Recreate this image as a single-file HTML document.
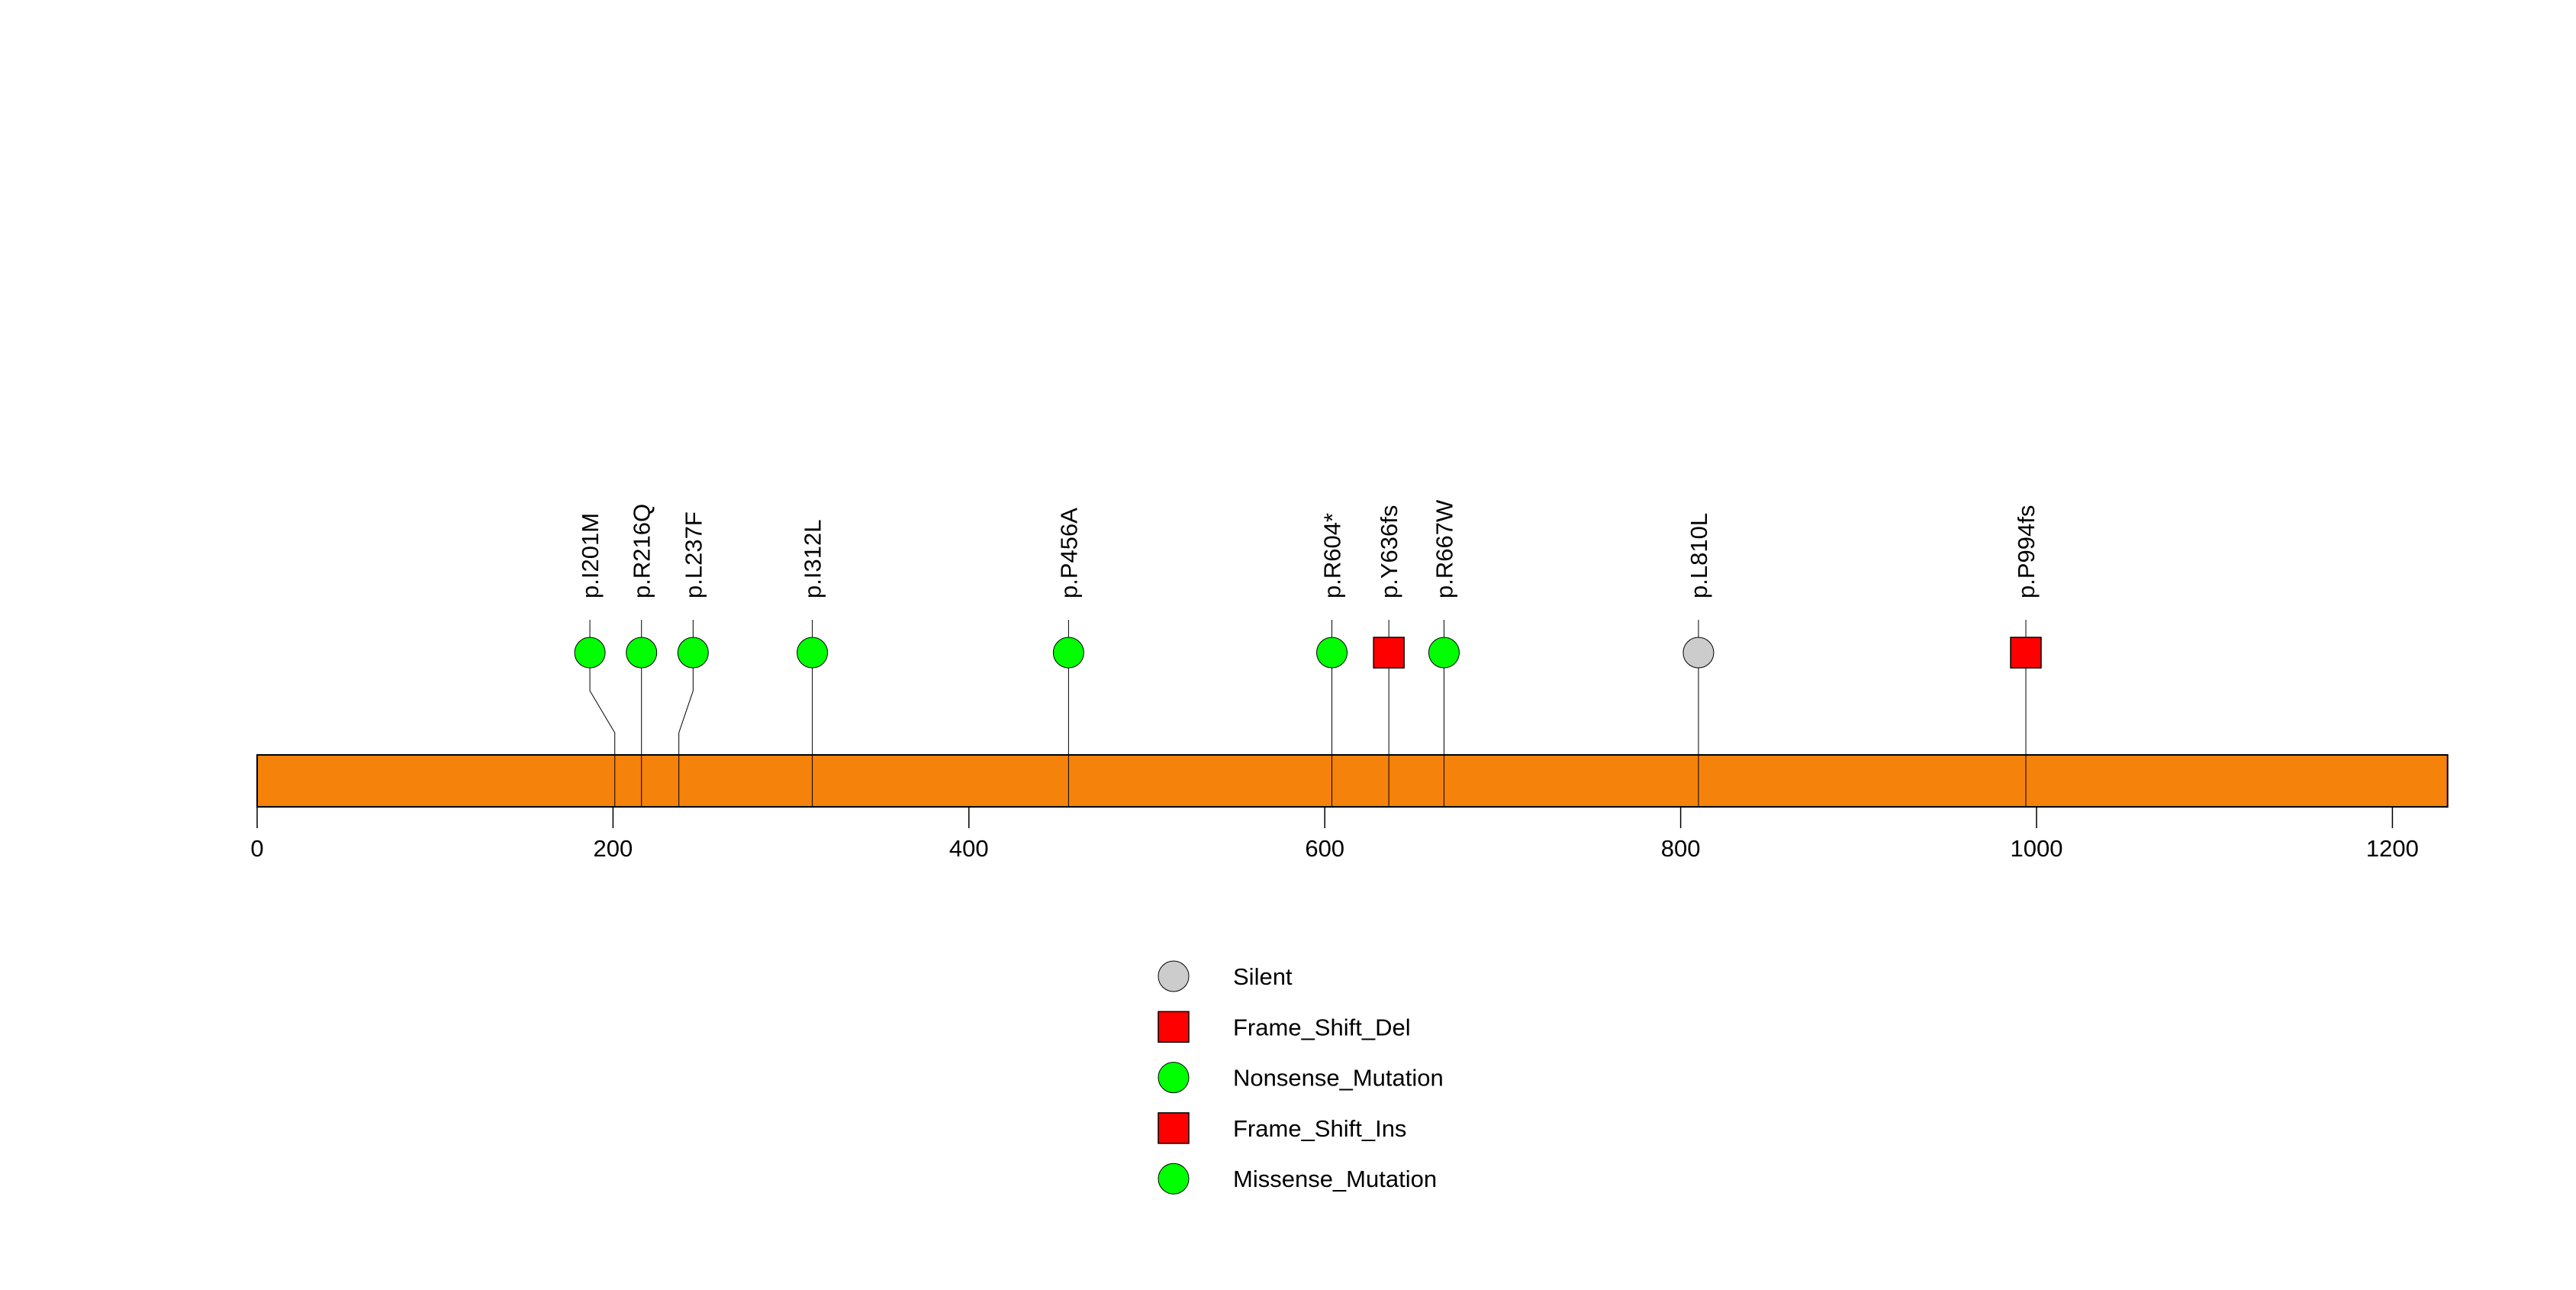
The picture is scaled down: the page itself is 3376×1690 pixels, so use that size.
<!DOCTYPE html>
<html><head><meta charset="utf-8"><style>
html,body{margin:0;padding:0;background:#fff;}
svg{display:block;font-family:"Liberation Sans",Arial,sans-serif;}
</style></head><body>
<svg id="chart" width="3376" height="1690" viewBox="0 0 3376 1690" xmlns="http://www.w3.org/2000/svg">
<rect width="3376" height="1690" fill="#fff"/>
<g id="axis"></g>
<g id="marks"></g>
<g id="legend"></g>
</svg>
<script>
const proteinLength = 1231;
const tickValues = [0, 200, 400, 600, 800, 1000, 1200];
const mutLabels = ["p.I201M","p.R216Q","p.L237F","p.I312L","p.P456A","p.R604*","p.Y636fs","p.R667W","p.L810L","p.P994fs"];
const mutPositions = [201, 216, 237, 312, 456, 604, 636, 667, 810, 994];
const mutDisplayPositions = [187, 216, 245, 312, 456, 604, 636, 667, 810, 994];
const mutTypes = ["Missense_Mutation","Missense_Mutation","Missense_Mutation","Missense_Mutation","Missense_Mutation","Nonsense_Mutation","Frame_Shift_Del","Missense_Mutation","Silent","Frame_Shift_Ins"];
const legendLabels = ["Silent","Frame_Shift_Del","Nonsense_Mutation","Frame_Shift_Ins","Missense_Mutation"];
const typeColor = {"Silent":"#cccccc","Frame_Shift_Del":"#ff0000","Nonsense_Mutation":"#00ff00","Frame_Shift_Ins":"#ff0000","Missense_Mutation":"#00ff00"};
const typeShape = {"Silent":"circle","Frame_Shift_Del":"square","Nonsense_Mutation":"circle","Frame_Shift_Ins":"square","Missense_Mutation":"circle"};

const NS="http://www.w3.org/2000/svg";
const X0=337, PX=2.332;
function xScale(v){return X0+v*PX;}
function mk(tag,attrs,parent){const e=document.createElementNS(NS,tag);for(const k in attrs)e.setAttribute(k,attrs[k]);parent.appendChild(e);return e;}

const axis=document.getElementById('axis');
const marks=document.getElementById('marks');
const legend=document.getElementById('legend');
const barTop=989, barBot=1057;

const bar=mk('rect',{x:xScale(0),y:barTop,width:xScale(proteinLength)-xScale(0),height:barBot-barTop,fill:'#f5820b',stroke:'#000','stroke-width':2},axis);



tickValues.forEach(v=>{
  const t=mk('line',{x1:xScale(v),x2:xScale(v),y1:barBot,y2:1085,stroke:'#000','stroke-width':1.5},axis);
  
  
  const l=mk('text',{x:xScale(v),y:1122,'text-anchor':'middle','font-size':31,fill:'#000'},axis);
  l.textContent=String(v);
  
  
});

const symY=855, R=20;
mutLabels.forEach((lab,i)=>{
  const xa=xScale(mutPositions[i]), xd=xScale(mutDisplayPositions[i]);
  const p=mk('polyline',{points:`${xd},812 ${xd},905 ${xa},960 ${xa},${barBot}`,fill:'none',stroke:'#000','stroke-width':1},marks);
  
  
  const ty=mutTypes[i];
  let s;
  if(typeShape[ty]==='square'){
    s=mk('rect',{x:xd-20,y:symY-20,width:40,height:40,fill:typeColor[ty],stroke:'#000','stroke-width':1.5},marks);
  }else{
    s=mk('circle',{cx:xd,cy:symY,r:R,fill:typeColor[ty],stroke:'#000','stroke-width':1},marks);
  }
  
  
  const t=mk('text',{x:0,y:0,'font-size':31,fill:'#000',transform:`translate(${xd+11},784) rotate(-90)`},marks);
  t.textContent=lab;
  
  
});

legendLabels.forEach((lab,i)=>{
  const y=1279+i*66.3, x=1538;
  let s;
  if(typeShape[lab]==='square'){
    s=mk('rect',{x:x-20,y:y-20,width:40,height:40,fill:typeColor[lab],stroke:'#000','stroke-width':1.5},legend);
  }else{
    s=mk('circle',{cx:x,cy:y,r:R,fill:typeColor[lab],stroke:'#000','stroke-width':1},legend);
  }
  
  
  const t=mk('text',{x:1616,y:y+11,'font-size':31,fill:'#000'},legend);
  t.textContent=lab;
  
  
});
</script>
</body></html>
